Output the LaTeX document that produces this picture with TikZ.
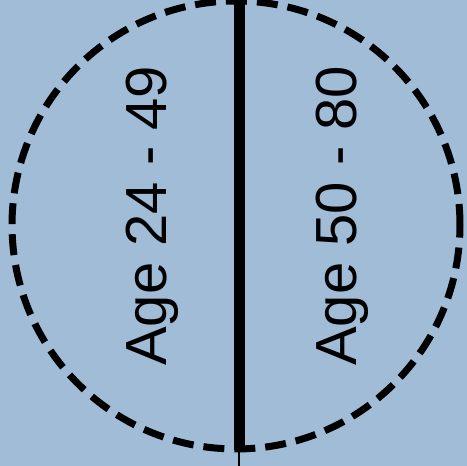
\documentclass[tikz,border=0pt]{standalone}
\usepackage{fontspec}
\setmainfont{Liberation Sans}
\definecolor{bgblue}{RGB}{161,188,214}
\tikzset{
  agelabel/.style={rotate=90,anchor=base west,inner sep=0pt,font=\fontsize{58}{60}\selectfont},
}
\begin{document}
\begin{tikzpicture}[x=1pt,y=1pt]
    \fill[bgblue] (0,0) rectangle (467,466);
    \useasboundingbox (0,0) rectangle (467,466);
    \coordinate (O) at (236,241);
    \coordinate (T) at (239,466);
    \coordinate (B) at (239,16);
    \coordinate (E) at (239,0);
    \draw[line width=7pt,dash pattern=on 21pt off 10pt] (O) circle[radius=224];
    \draw[line width=11pt] (T)--(B);
    \draw[line width=2pt] (B)--(E);
    \node[agelabel] (young) at (166,100) {Age 24 - 49};
    \node[agelabel] (old) at (356,100) {Age 50 - 80};
\end{tikzpicture}
\end{document}
